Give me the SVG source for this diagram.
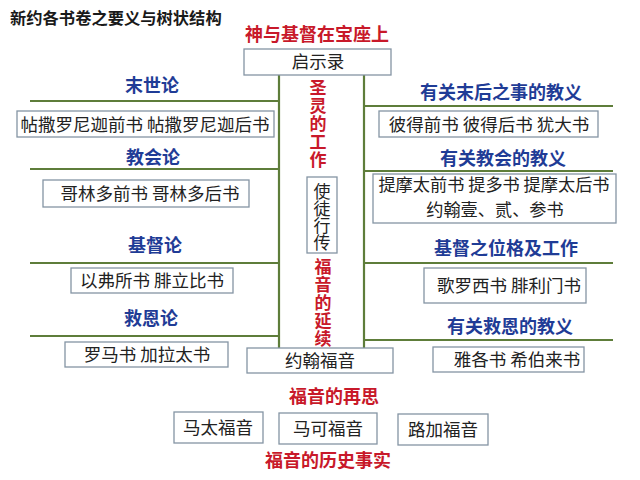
<svg xmlns="http://www.w3.org/2000/svg" width="640" height="480" viewBox="0 0 640 480">
<style>
text{font-family:"Noto Sans CJK SC","Noto Sans",sans-serif;}
.title{font-size:16.3px;font-weight:bold;fill:#1a1a1a;}
.red{font-size:18px;font-weight:bold;fill:#c8192a;text-anchor:middle;}
.blue{font-size:18px;font-weight:bold;fill:#1f3c96;text-anchor:middle;}
.bk{font-size:17.5px;fill:#222;text-anchor:middle;}
.bk2{font-size:17.2px;fill:#222;text-anchor:middle;}
.vred{font-size:17px;font-weight:bold;fill:#c8192a;writing-mode:vertical-rl;letter-spacing:1px;}
.vbk{font-size:17px;fill:#222;writing-mode:vertical-rl;}
.box{fill:#fff;stroke:#8494a4;stroke-width:1.3;}
.ln{stroke:#5e7d3a;stroke-width:2.2;fill:none;}
</style>
<rect width="640" height="480" fill="#fff"/>
<text class="title" x="10" y="24">新约各书卷之要义与树状结构</text>
<text class="red" x="317" y="41">神与基督在宝座上</text>

<g id="connectors">
<line class="ln" x1="279" y1="75" x2="279" y2="348"/>
<line class="ln" x1="364" y1="75" x2="364" y2="348"/>
<line class="ln" x1="30" y1="101" x2="279" y2="101"/>
<line class="ln" x1="30" y1="169" x2="279" y2="169"/>
<line class="ln" x1="30" y1="263" x2="279" y2="263"/>
<line class="ln" x1="30" y1="336" x2="279" y2="336"/>
<line class="ln" x1="364" y1="106" x2="613" y2="106"/>
<line class="ln" x1="364" y1="171" x2="613" y2="171"/>
<line class="ln" x1="364" y1="263" x2="613" y2="263"/>
<line class="ln" x1="364" y1="340" x2="613" y2="340"/>
</g>

<g id="revelation">
<rect class="box" x="244" y="49" width="147" height="26"/>
<text class="bk" x="318" y="68">启示录</text>
</g>

<g id="spirit-work">
<text class="vred" x="318" y="79">圣灵的工作</text>
</g>

<g id="acts">
<rect class="box" x="307" y="177" width="30" height="76"/>
<text class="vbk" x="322" y="183">使徒行传</text>
</g>

<g id="gospel-continue">
<text class="vred" x="323" y="258">福音的延续</text>
</g>

<g id="john">
<rect class="box" x="247" y="348" width="146" height="25"/>
<text class="bk" x="320" y="367">约翰福音</text>
</g>

<g id="eschatology">
<text class="blue" x="152" y="92">末世论</text>
<rect class="box" x="17" y="111" width="257" height="26"/>
<text class="bk" x="145" y="131">帖撒罗尼迦前书 帖撒罗尼迦后书</text>
</g>

<g id="ecclesiology">
<text class="blue" x="153" y="164">教会论</text>
<rect class="box" x="43" y="180" width="206" height="27"/>
<text class="bk" x="150" y="200">哥林多前书 哥林多后书</text>
</g>

<g id="christology">
<text class="blue" x="155" y="252">基督论</text>
<rect class="box" x="71" y="268" width="162" height="25"/>
<text class="bk" x="152" y="287">以弗所书 腓立比书</text>
</g>

<g id="soteriology">
<text class="blue" x="151" y="325">救恩论</text>
<rect class="box" x="65" y="342" width="163" height="25"/>
<text class="bk" x="147" y="361">罗马书 加拉太书</text>
</g>

<g id="last-things">
<text class="blue" x="501" y="99">有关末后之事的教义</text>
<rect class="box" x="379" y="111" width="219" height="26"/>
<text class="bk" x="489" y="131">彼得前书 彼得后书 犹大书</text>
</g>

<g id="church-teaching">
<text class="blue" x="503" y="165">有关教会的教义</text>
<rect class="box" x="373" y="174" width="243" height="49"/>
<text class="bk2"><tspan x="494" y="191">提摩太前书 提多书 提摩太后书</tspan><tspan x="495" y="216">约翰壹、贰、参书</tspan></text>
</g>

<g id="christ-person">
<text class="blue" x="506" y="255">基督之位格及工作</text>
<rect class="box" x="424" y="268" width="162" height="35"/>
<text class="bk" x="509" y="292">歌罗西书 腓利门书</text>
</g>

<g id="salvation-teaching">
<text class="blue" x="510" y="333">有关救恩的教义</text>
<rect class="box" x="433" y="347" width="151" height="25"/>
<text class="bk" x="517" y="366">雅各书 希伯来书</text>
</g>

<g id="gospel-rethink">
<text class="red" x="334" y="403">福音的再思</text>
</g>

<g id="matthew">
<rect class="box" x="174" y="412" width="89" height="31"/>
<text class="bk" x="218" y="434">马太福音</text>
</g>
<g id="mark">
<rect class="box" x="279" y="413" width="98" height="31"/>
<text class="bk" x="328" y="435">马可福音</text>
</g>
<g id="luke">
<rect class="box" x="398" y="414" width="90" height="31"/>
<text class="bk" x="443" y="436">路加福音</text>
</g>

<g id="gospel-history">
<text class="red" x="328" y="467">福音的历史事实</text>
</g>
</svg>
